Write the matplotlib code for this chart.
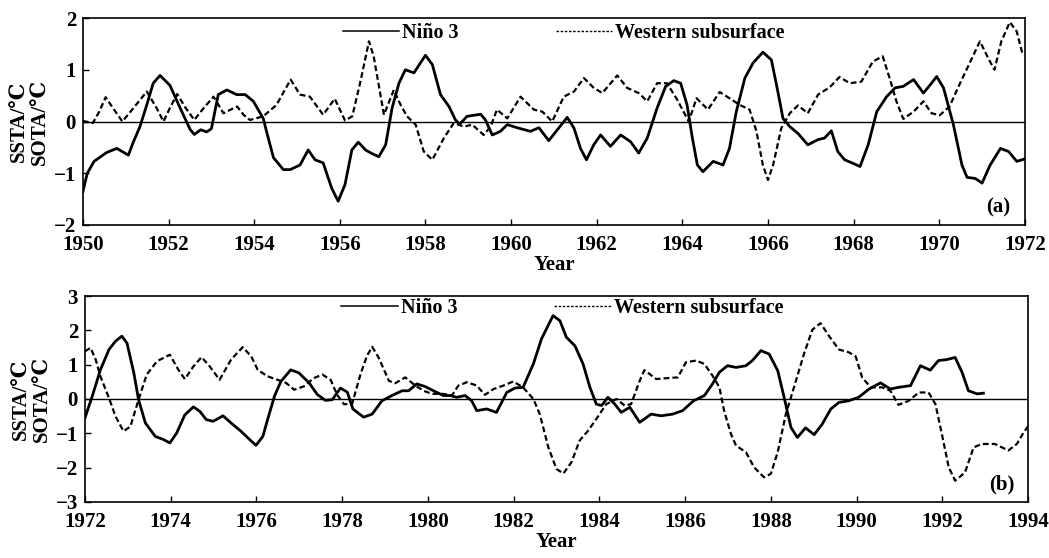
import matplotlib
matplotlib.use('Agg')
import matplotlib.pyplot as plt
from matplotlib.lines import Line2D

plt.rcParams['font.family'] = ['Liberation Serif', 'DejaVu Serif', 'DejaVu Sans']
plt.rcParams['font.weight'] = 'bold'
plt.rcParams['axes.labelweight'] = 'bold'

# panel (a): 1950-1972
nino_a_years = [1950.0, 1950.1, 1950.26, 1950.55, 1950.79, 1951.06, 1951.18, 1951.33, 1951.49, 1951.64,
                1951.8, 1952.03, 1952.27, 1952.5, 1952.6, 1952.75, 1952.89, 1953.0, 1953.16, 1953.36,
                1953.59, 1953.79, 1953.98, 1954.21, 1954.29, 1954.45, 1954.68, 1954.84, 1955.07, 1955.26,
                1955.42, 1955.61, 1955.81, 1955.96, 1956.12, 1956.28, 1956.43, 1956.6, 1956.75, 1956.91,
                1957.07, 1957.22, 1957.38, 1957.53, 1957.73, 1957.88, 1958.0, 1958.16, 1958.35, 1958.55,
                1958.7, 1958.8, 1958.97, 1959.29, 1959.4, 1959.56, 1959.75, 1959.91, 1960.14, 1960.45,
                1960.65, 1960.88, 1961.08, 1961.31, 1961.47, 1961.62, 1961.76, 1961.93, 1962.09, 1962.32,
                1962.56, 1962.79, 1962.98, 1963.18, 1963.41, 1963.61, 1963.8, 1963.96, 1964.11, 1964.23,
                1964.35, 1964.48, 1964.72, 1964.95, 1965.1, 1965.26, 1965.46, 1965.65, 1965.88, 1966.08,
                1966.23, 1966.35, 1966.51, 1966.7, 1966.93, 1967.17, 1967.32, 1967.48, 1967.63, 1967.79,
                1967.99, 1968.15, 1968.34, 1968.54, 1968.77, 1968.97, 1969.16, 1969.4, 1969.63, 1969.82,
                1969.94, 1970.1, 1970.33, 1970.53, 1970.65, 1970.84, 1971.0, 1971.19, 1971.43, 1971.62,
                1971.81, 1971.93, 1972.0]
nino_a = [-1.35, -1.0, -0.77, -0.6, -0.52, -0.65, -0.39, -0.1, 0.32, 0.74,
          0.89, 0.7, 0.26, -0.15, -0.25, -0.16, -0.2, -0.14, 0.52, 0.61,
          0.52, 0.52, 0.39, 0.06, -0.2, -0.7, -0.93, -0.93, -0.84, -0.55,
          -0.74, -0.8, -1.29, -1.54, -1.22, -0.55, -0.4, -0.55, -0.62, -0.68,
          -0.45, 0.26, 0.74, 1.0, 0.94, 1.13, 1.28, 1.1, 0.52, 0.29,
          0.03, -0.05, 0.1, 0.14, 0.03, -0.26, -0.19, -0.06, -0.12, -0.19,
          -0.12, -0.37, -0.16, 0.08, -0.13, -0.52, -0.74, -0.45, -0.26, -0.48,
          -0.26, -0.39, -0.61, -0.32, 0.26, 0.68, 0.79, 0.74, 0.32, -0.3,
          -0.84, -0.97, -0.77, -0.84, -0.52, 0.19, 0.84, 1.13, 1.34, 1.19,
          0.58, 0.06, -0.1, -0.23, -0.45, -0.35, -0.32, -0.18, -0.58, -0.74,
          -0.81, -0.87, -0.45, 0.19, 0.48, 0.65, 0.68, 0.81, 0.55, 0.74,
          0.87, 0.65, -0.06, -0.84, -1.08, -1.1, -1.19, -0.84, -0.52, -0.58,
          -0.77, -0.74, -0.72]

west_a_years = [1950.0, 1950.23, 1950.38, 1950.53, 1950.7, 1950.92, 1951.18, 1951.49, 1951.72, 1951.88,
                1952.03, 1952.2, 1952.4, 1952.6, 1952.82, 1953.05, 1953.28, 1953.6, 1953.75, 1953.9,
                1954.21, 1954.52, 1954.85, 1955.07, 1955.3, 1955.61, 1955.88, 1956.12, 1956.29, 1956.48,
                1956.68, 1956.79, 1957.03, 1957.26, 1957.42, 1957.57, 1957.77, 1957.96, 1958.16, 1958.43,
                1958.66, 1958.9, 1959.09, 1959.36, 1959.52, 1959.67, 1959.91, 1960.22, 1960.53, 1960.73,
                1960.96, 1961.23, 1961.47, 1961.7, 1961.93, 1962.13, 1962.48, 1962.71, 1962.98, 1963.18,
                1963.41, 1963.64, 1963.88, 1964.15, 1964.33, 1964.6, 1964.87, 1965.1, 1965.34, 1965.57,
                1965.73, 1965.88, 1966.0, 1966.12, 1966.31, 1966.51, 1966.7, 1966.93, 1967.17, 1967.44,
                1967.67, 1967.91, 1968.18, 1968.45, 1968.68, 1968.84, 1969.0, 1969.16, 1969.4, 1969.63,
                1969.82, 1970.01, 1970.24, 1970.47, 1970.71, 1970.95, 1971.14, 1971.29, 1971.45, 1971.65,
                1971.81, 1971.93, 1972.0]
west_a = [0.01, -0.03, 0.19, 0.47, 0.26, 0.0, 0.26, 0.58, 0.26, 0.0,
          0.26, 0.53, 0.26, 0.03, 0.26, 0.48, 0.16, 0.29, 0.13, 0.03,
          0.1, 0.32, 0.81, 0.52, 0.48, 0.13, 0.44, 0.02, 0.1, 0.77,
          1.55, 1.26, 0.13, 0.61, 0.32, 0.1, -0.06, -0.58, -0.74, -0.32,
          -0.03, -0.1, -0.06, -0.26, -0.1, 0.23, 0.06, 0.48, 0.23, 0.19,
          0.0, 0.48, 0.58, 0.84, 0.65, 0.55, 0.89, 0.65, 0.55, 0.39,
          0.74, 0.74, 0.42, 0.0, 0.45, 0.23, 0.57, 0.45, 0.32, 0.23,
          -0.19, -0.84, -1.13, -0.84, -0.13, 0.16, 0.31, 0.16, 0.52, 0.66,
          0.86, 0.74, 0.77, 1.16, 1.26, 0.84, 0.39, 0.05, 0.19, 0.39,
          0.16, 0.12, 0.29, 0.71, 1.13, 1.55, 1.23, 1.0, 1.55, 1.92,
          1.74, 1.35, 1.3]

# panel (b): 1972-1994
nino_b_years = [1972.0, 1972.17, 1972.36, 1972.56, 1972.71, 1972.86, 1972.98, 1973.14, 1973.25, 1973.41,
                1973.64, 1973.83, 1973.98, 1974.14, 1974.33, 1974.53, 1974.68, 1974.83, 1974.99, 1975.22,
                1975.41, 1975.64, 1975.84, 1975.99, 1976.15, 1976.26, 1976.42, 1976.57, 1976.8, 1976.99,
                1977.23, 1977.42, 1977.61, 1977.77, 1977.96, 1978.12, 1978.25, 1978.5, 1978.7, 1978.93,
                1979.16, 1979.4, 1979.55, 1979.74, 1979.94, 1980.13, 1980.36, 1980.52, 1980.67, 1980.87,
                1981.02, 1981.14, 1981.37, 1981.6, 1981.84, 1982.03, 1982.22, 1982.46, 1982.65, 1982.92,
                1983.08, 1983.23, 1983.43, 1983.62, 1983.78, 1983.93, 1984.05, 1984.2, 1984.36, 1984.51,
                1984.71, 1984.94, 1985.21, 1985.44, 1985.71, 1985.94, 1986.2, 1986.45, 1986.64, 1986.8,
                1986.99, 1987.19, 1987.42, 1987.57, 1987.77, 1987.96, 1988.16, 1988.31, 1988.47, 1988.62,
                1988.81, 1989.01, 1989.2, 1989.4, 1989.59, 1989.82, 1990.05, 1990.29, 1990.56, 1990.79,
                1990.98, 1991.26, 1991.49, 1991.72, 1991.91, 1992.11, 1992.3, 1992.46, 1992.61, 1992.81,
                1992.96]
nino_b = [-0.55, 0.08, 0.85, 1.44, 1.68, 1.83, 1.63, 0.76, -0.02, -0.7,
          -1.09, -1.18, -1.28, -0.99, -0.46, -0.23, -0.36, -0.6, -0.65, -0.49,
          -0.7, -0.94, -1.18, -1.35, -1.09, -0.6, 0.08, 0.51, 0.85, 0.76,
          0.47, 0.13, -0.04, -0.02, 0.32, 0.2, -0.29, -0.53, -0.44, -0.05,
          0.1, 0.24, 0.24, 0.44, 0.36, 0.24, 0.1, 0.1, 0.05, 0.1,
          -0.05, -0.34, -0.29, -0.39, 0.19, 0.32, 0.34, 1.02, 1.75, 2.43,
          2.28, 1.8, 1.55, 1.02, 0.34, -0.15, -0.19, 0.05, -0.15, -0.39,
          -0.24, -0.68, -0.44, -0.49, -0.44, -0.34, -0.05, 0.1, 0.44, 0.78,
          0.97, 0.92, 0.97, 1.12, 1.41, 1.31, 0.83, 0.05, -0.83, -1.12,
          -0.84, -1.04, -0.73, -0.29, -0.1, -0.05, 0.05, 0.29, 0.47, 0.29,
          0.34, 0.39, 0.97, 0.84, 1.12, 1.15, 1.21, 0.78, 0.24, 0.15,
          0.17]

west_b_years = [1972.0, 1972.13, 1972.25, 1972.36, 1972.56, 1972.71, 1972.9, 1973.06, 1973.25, 1973.44,
                1973.68, 1973.98, 1974.18, 1974.33, 1974.53, 1974.72, 1974.91, 1975.14, 1975.41, 1975.68,
                1975.88, 1976.03, 1976.26, 1976.49, 1976.69, 1976.88, 1977.11, 1977.34, 1977.54, 1977.73,
                1977.88, 1978.04, 1978.23, 1978.43, 1978.58, 1978.7, 1978.85, 1979.09, 1979.24, 1979.47,
                1979.71, 1979.9, 1980.09, 1980.36, 1980.56, 1980.71, 1980.91, 1981.14, 1981.33, 1981.53,
                1981.76, 1981.99, 1982.22, 1982.46, 1982.61, 1982.81, 1983.0, 1983.16, 1983.35, 1983.54,
                1983.74, 1983.93, 1984.16, 1984.4, 1984.59, 1984.74, 1984.94, 1985.05, 1985.33, 1985.6,
                1985.83, 1986.02, 1986.26, 1986.45, 1986.64, 1986.8, 1986.91, 1987.07, 1987.19, 1987.42,
                1987.61, 1987.84, 1988.0, 1988.16, 1988.35, 1988.54, 1988.78, 1988.97, 1989.16, 1989.36,
                1989.59, 1989.82, 1989.98, 1990.13, 1990.33, 1990.6, 1990.79, 1990.98, 1991.22, 1991.45,
                1991.68, 1991.84, 1991.99, 1992.15, 1992.3, 1992.53, 1992.73, 1992.92, 1993.23, 1993.54,
                1993.74, 1993.9, 1994.0]
west_b = [1.39, 1.49, 1.15, 0.66, 0.03, -0.5, -0.94, -0.8, -0.02, 0.71,
          1.1, 1.29, 0.85, 0.58, 0.95, 1.22, 0.95, 0.56, 1.15, 1.51,
          1.24, 0.85, 0.66, 0.56, 0.47, 0.27, 0.37, 0.61, 0.71, 0.56,
          0.13, -0.15, -0.15, 0.73, 1.26, 1.52, 1.21, 0.53, 0.46, 0.63,
          0.39, 0.24, 0.15, 0.15, 0.1, 0.39, 0.49, 0.39, 0.12, 0.29,
          0.39, 0.51, 0.34, 0.0, -0.44, -1.41, -2.04, -2.17, -1.84, -1.21,
          -0.92, -0.58, -0.15, 0.0, -0.19, -0.15, 0.53, 0.84, 0.58, 0.61,
          0.63, 1.07, 1.12, 1.02, 0.68, 0.34, -0.34, -1.02, -1.36, -1.55,
          -1.99, -2.28, -2.18, -1.55, -0.44, 0.34, 1.34, 2.02, 2.21, 1.83,
          1.44, 1.36, 1.24, 0.63, 0.34, 0.34, 0.24, -0.17, -0.05, 0.19,
          0.19, -0.15, -1.02, -1.99, -2.38, -2.14, -1.41, -1.31, -1.31, -1.5,
          -1.31, -0.97, -0.8]

fs = 15
dash = (2.6, 1.4)

fig = plt.figure(figsize=(10.49, 5.58), dpi=100)
ax1 = fig.add_axes([0.0791, 0.5968, 0.8979, 0.3709])
ax2 = fig.add_axes([0.0810, 0.1004, 0.8990, 0.3691])


def draw_panel(ax, yrs_n, nino, yrs_w, west, x0, ylim, tag, leg_xy):
    ax.axhline(0, color='black', lw=1.0, zorder=1)
    ax.plot(yrs_n, nino, color='black', lw=2.0, zorder=3)
    ax.plot(yrs_w, west, color='black', lw=1.6, dashes=dash, zorder=2)
    ax.set_xlim(x0, x0 + 22)
    ax.set_ylim(*ylim)
    ax.set_xticks(range(x0, x0 + 23, 2))
    ax.set_yticks(range(ylim[0], ylim[1] + 1))
    ax.tick_params(direction='in', length=4, width=1, labelsize=fs, pad=5)
    ax.tick_params(axis='x', pad=7)
    for s in ax.spines.values():
        s.set_linewidth(1.2)
    ax.set_xlabel('Year', fontsize=fs, labelpad=0)
    ax.set_ylabel('SSTA/℃\nSOTA/℃', fontsize=fs, linespacing=1.1, labelpad=2)
    ax.text(0.972, 0.085, tag, transform=ax.transAxes, fontsize=fs,
            ha='center', va='center')
    # legend handles drawn thinner than the data lines
    handles = [Line2D([], [], color='black', lw=1.1),
               Line2D([], [], color='black', lw=1.0, dashes=(1.8, 1.2))]
    ax.legend(handles, ['Niño 3', 'Western subsurface'], loc='center left',
              bbox_to_anchor=leg_xy, ncol=2, frameon=False,
              prop={'weight': 'bold', 'size': 14.5}, handlelength=2.8, handletextpad=0.15,
              columnspacing=4.8, borderpad=0, borderaxespad=0)


draw_panel(ax1, nino_a_years, nino_a, west_a_years, west_a, 1950, (-2, 2), '(a)', (0.276, 0.927))
draw_panel(ax2, nino_b_years, nino_b, west_b_years, west_b, 1972, (-3, 3), '(b)', (0.272, 0.94))

fig.savefig('out.png', dpi=100)
